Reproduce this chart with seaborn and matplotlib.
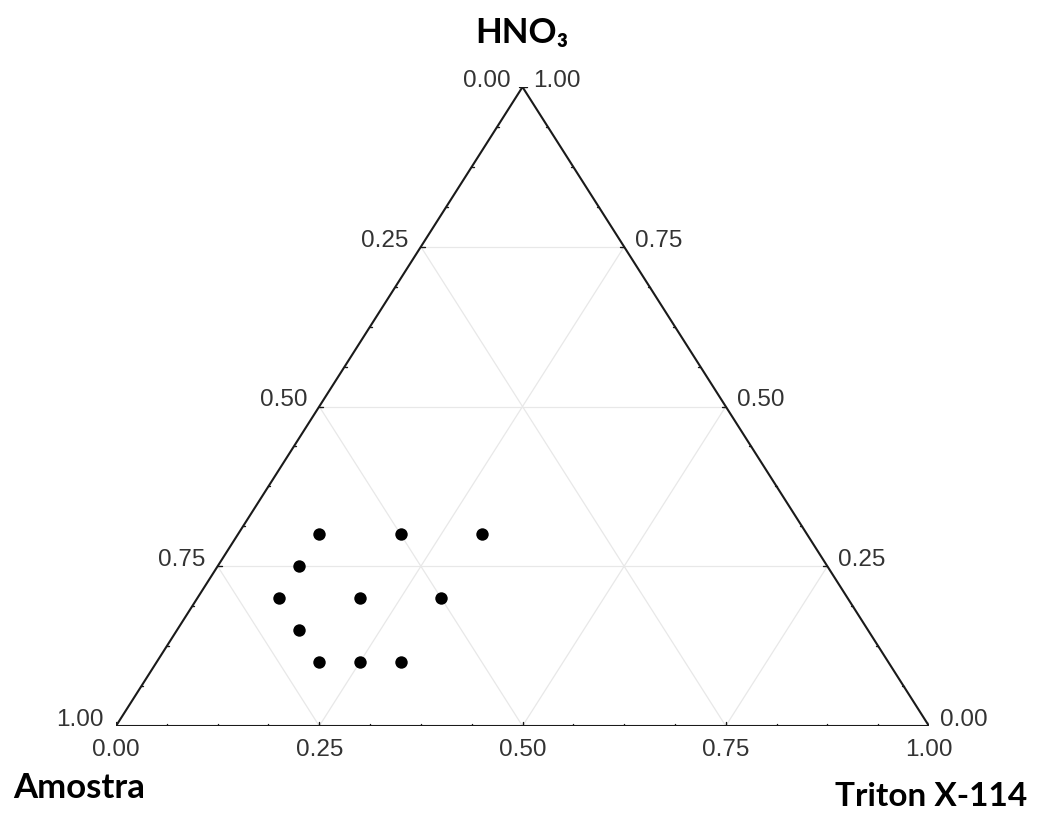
import numpy as np
import pandas as pd
import matplotlib
matplotlib.use("Agg")
import matplotlib.pyplot as plt
import seaborn as sns

# ---- data (fractions) ----
triton = [0.10, 0.20, 0.30, 0.10, 0.10, 0.20, 0.30, 0.15, 0.20, 0.25, 0.30]
hno3   = [0.30, 0.30, 0.30, 0.25, 0.20, 0.20, 0.20, 0.15, 0.10, 0.10, 0.10]
amostra = [round(1 - t - h, 2) for t, h in zip(triton, hno3)]

tick_vals = [0.0, 0.25, 0.5, 0.75, 1.0]
tick_labels = ["0.00", "0.25", "0.50", "0.75", "1.00"]
axis_names = {"top": "HNO", "left": "Amostra", "right": "Triton X-114"}

sns.set_theme(style="white")
plt.rcParams["font.family"] = ["Liberation Sans", "DejaVu Sans"]

W, H = 1038, 814
fig = plt.figure(figsize=(W / 100, H / 100), dpi=100)
ax = fig.add_axes([116 / W, 88 / H, 813 / W, 639 / H])


def cart(t, h):
    t = np.asarray(t, float)
    h = np.asarray(h, float)
    return t + h / 2, h


# grid
gc = "#e8e8e8"
for v in [0.25, 0.5, 0.75]:
    x0, y0 = cart(0, v); x1, y1 = cart(1 - v, v)
    ax.plot([x0, x1], [y0, y1], color=gc, lw=0.9, zorder=1)
    x0, y0 = cart(v, 0); x1, y1 = cart(v, 1 - v)
    ax.plot([x0, x1], [y0, y1], color=gc, lw=0.9, zorder=1)
    x0, y0 = cart(1 - v, 0); x1, y1 = cart(0, 1 - v)
    ax.plot([x0, x1], [y0, y1], color=gc, lw=0.9, zorder=1)

# triangle
tx, ty = cart([0, 1, 0, 0], [0, 0, 1, 0])
ax.plot(tx, ty, color="#1a1a1a", lw=1.5, zorder=3, solid_joinstyle="miter")

# ticks (minor every 1/16, major every 1/4)
px_x = 1 / 813
px_y = 1 / 639
for k in range(17):
    v = k / 16
    L = 4 if k % 4 == 0 else 2
    x, y = cart(v, 0)
    ax.plot([x, x], [y, y + L * px_y], color="#1a1a1a", lw=1.0, zorder=3)
    x, y = cart(0, 1 - v)
    ax.plot([x, x + L * px_x], [y, y], color="#1a1a1a", lw=1.0, zorder=3)
    x, y = cart(1 - v, v)
    ax.plot([x, x - L * px_x], [y, y], color="#1a1a1a", lw=1.0, zorder=3)

# data points
df = pd.DataFrame({"Amostra": amostra, "Triton": triton, "HNO3": hno3})
df["x"], df["y"] = cart(df["Triton"], df["HNO3"])
sns.scatterplot(data=df, x="x", y="y", ax=ax, color="black", s=80,
                edgecolor="black", linewidth=0, zorder=5, clip_on=False, legend=False)
ax.set_xlim(0, 1)
ax.set_ylim(0, 1)
ax.axis("off")

# tick labels
tc = "#333333"
fs = 17.5
for v, lab in zip(tick_vals, tick_labels):
    x, y = cart(0, 1 - v)
    ax.annotate(lab, (x, y), xytext=(-12, 6), textcoords="offset pixels",
                ha="right", va="center", fontsize=fs, color=tc, annotation_clip=False)
    x, y = cart(1 - v, v)
    ax.annotate(lab, (x, y), xytext=(11, 6), textcoords="offset pixels",
                ha="left", va="center", fontsize=fs, color=tc, annotation_clip=False)
    x, y = cart(v, 0)
    ax.annotate(lab, (x, y), xytext=(0, -24), textcoords="offset pixels",
                ha="center", va="center", fontsize=fs, color=tc, annotation_clip=False)

# axis names
tf = ["Lato", "DejaVu Sans"]
tsz = 25
ax.annotate(axis_names["top"] + "\u2083", cart(0, 1), xytext=(-1, 54), textcoords="offset pixels",
            ha="center", va="center", fontsize=tsz, fontweight="bold", family=tf,
            color="black", annotation_clip=False)
ax.annotate(axis_names["left"], cart(0, 0), xytext=(-37, -62), textcoords="offset pixels",
            ha="center", va="center", fontsize=tsz, fontweight="bold", family=tf,
            color="black", annotation_clip=False)
ax.annotate(axis_names["right"], cart(1, 0), xytext=(2, -71), textcoords="offset pixels",
            ha="center", va="center", fontsize=tsz - 1, fontweight="bold", family=tf,
            color="black", annotation_clip=False)

fig.savefig("out.png", dpi=100, facecolor="white")
